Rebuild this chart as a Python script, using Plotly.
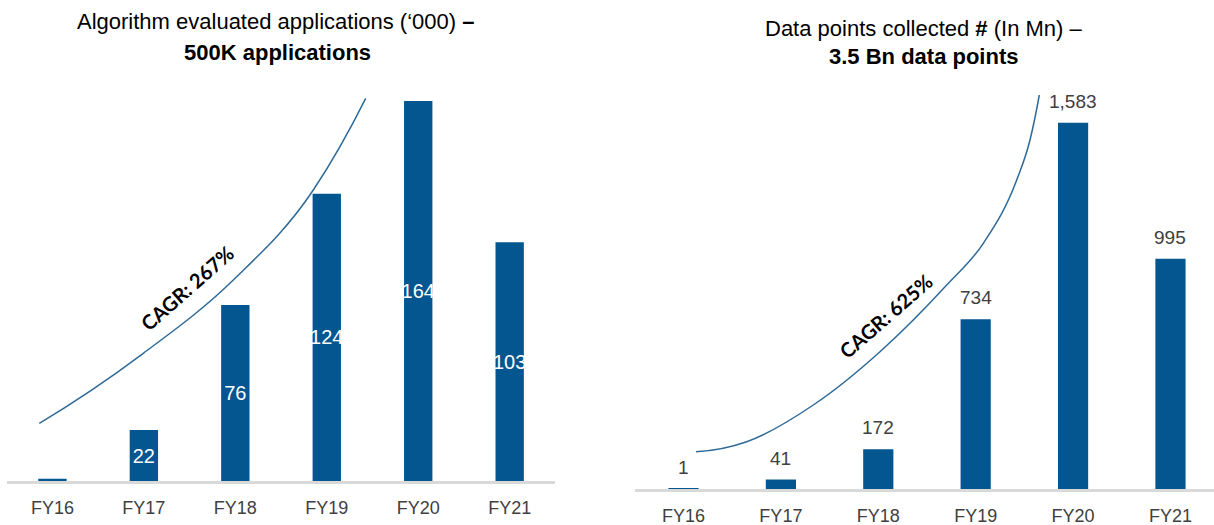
import plotly.graph_objects as go

# ---------------- data ----------------
years = ["FY16", "FY17", "FY18", "FY19", "FY20", "FY21"]
apps_k = [1, 22, 76, 124, 164, 103]            # Algorithm evaluated applications ('000)
data_points_mn = [1, 41, 172, 734, 1583, 995]   # Data points collected (In Mn)

left_title_1 = "Algorithm evaluated applications (‘000) <b>–</b>"
left_title_2 = "<b>500K applications</b>"
right_title_1 = "Data points collected <b>#</b> (In Mn) –"
right_title_2 = "<b>3.5 Bn data points</b>"
left_cagr = "CAGR: 267%"
right_cagr = "CAGR: 625%"

# ---------------- style ----------------
W, H = 1214, 525
BAR = "#03568F"
CURVE = "#2F6A97"
NARROW = "Liberation Sans Narrow, Arial Narrow, Liberation Sans, Arial, sans-serif"
GREY = "#404040"


def px(x):
    return x / W


def py(y):
    return 1 - y / H


def smooth_path(pts):
    """Smooth SVG path (paper coords) through pixel guide points, y as a function of x
    (Hermite cubic with weighted-average tangents -> no wobble)."""
    n = len(pts)
    h = [pts[i + 1][0] - pts[i][0] for i in range(n - 1)]
    d = [(pts[i + 1][1] - pts[i][1]) / h[i] for i in range(n - 1)]
    m = [0.0] * n
    for i in range(1, n - 1):
        m[i] = (d[i - 1] * h[i] + d[i] * h[i - 1]) / (h[i - 1] + h[i])
    m0 = 2 * d[0] - m[1]
    m[0] = m0 if abs(m0) < abs(d[0]) and m0 * d[0] > 0 else 0.4 * d[0]
    m[-1] = 2 * d[-1] - m[-2]
    out = f"M {px(pts[0][0]):.5f},{py(pts[0][1]):.5f}"
    for i in range(n - 1):
        x0, y0 = pts[i]
        x1, y1 = pts[i + 1]
        c1 = (x0 + h[i] / 3, y0 + m[i] * h[i] / 3)
        c2 = (x1 - h[i] / 3, y1 - m[i + 1] * h[i] / 3)
        out += (f" C {px(c1[0]):.5f},{py(c1[1]):.5f} {px(c2[0]):.5f},{py(c2[1]):.5f}"
                f" {px(x1):.5f},{py(y1):.5f}")
    return out


fig = go.Figure()

# left chart bars (labels inside, white)
fig.add_trace(go.Bar(
    x=years, y=apps_k, xaxis="x", yaxis="y",
    marker=dict(color=BAR, line=dict(width=0)),
    text=[str(v) for v in apps_k],
    textposition=["outside"] + ["inside"] * (len(apps_k) - 1),
    insidetextanchor="middle",
    textangle=0,
    constraintext="none",
    textfont=dict(family=NARROW, size=20, color="white"),
    cliponaxis=False,
    hoverinfo="skip",
))

# right chart bars
fig.add_trace(go.Bar(
    x=years, y=data_points_mn, xaxis="x2", yaxis="y2",
    marker=dict(color=BAR, line=dict(width=0)),
    cliponaxis=False,
    hoverinfo="skip",
))

annotations = []
# right chart value labels above bars
for yr, v in zip(years, data_points_mn):
    annotations.append(dict(
        x=yr, y=v, xref="x2", yref="y2", text=f"{v:,}", showarrow=False,
        yanchor="bottom", yshift=9,
        font=dict(family=NARROW, size=19, color=GREY),
    ))

# titles
annotations += [
    dict(x=px(275), y=py(22), xref="paper", yref="paper", text=left_title_1,
         showarrow=False, xanchor="center", yanchor="middle",
         font=dict(family=NARROW, size=22, color="black")),
    dict(x=px(277.5), y=py(52), xref="paper", yref="paper", text=left_title_2,
         showarrow=False, xanchor="center", yanchor="middle",
         font=dict(family=NARROW, size=22, color="black")),
    dict(x=px(923.5), y=py(28), xref="paper", yref="paper", text=right_title_1,
         showarrow=False, xanchor="center", yanchor="middle",
         font=dict(family=NARROW, size=22, color="black")),
    dict(x=px(923.5), y=py(57), xref="paper", yref="paper", text=right_title_2,
         showarrow=False, xanchor="center", yanchor="middle",
         font=dict(family=NARROW, size=22, color="black")),
    dict(x=px(186.7), y=py(287.5), xref="paper", yref="paper", text=f"<b>{left_cagr}</b>",
         showarrow=False, xanchor="center", yanchor="middle", textangle=-41.5,
         font=dict(family="Lato, Carlito, sans-serif", size=20, color="black")),
    dict(x=px(885.5), y=py(315.8), xref="paper", yref="paper", text=f"<b>{right_cagr}</b>",
         showarrow=False, xanchor="center", yanchor="middle", textangle=-41,
         font=dict(family="Lato, Carlito, sans-serif", size=20, color="black")),
]

# guide points (pixels) for the decorative CAGR arcs
left_curve = [(39.3, 423.3), (143.3, 353.3), (233.3, 280.0), (313.3, 190.0), (365.7, 98.3)]
right_curve = [(696.0, 451.7), (746.7, 441.7), (813.3, 405.0), (880.0, 351.7),
               (946.7, 285.0), (983.3, 243.3), (1016.7, 180.0), (1030.0, 140.0),
               (1039.3, 95.0)]

shapes = [
    dict(type="path", xref="paper", yref="paper", path=smooth_path(left_curve),
         line=dict(color=CURVE, width=1.5), fillcolor="rgba(0,0,0,0)", layer="above"),
    dict(type="path", xref="paper", yref="paper", path=smooth_path(right_curve),
         line=dict(color=CURVE, width=1.5), fillcolor="rgba(0,0,0,0)", layer="above"),
]

xcommon = dict(type="category", showgrid=False, zeroline=False, showline=True,
               linecolor="#D9D9D9", linewidth=3, ticks="", ticklabelstandoff=8,
               layer="above traces",
               tickfont=dict(family=NARROW, size=18, color=GREY), fixedrange=True)
ycommon = dict(visible=False, showgrid=False, zeroline=False, fixedrange=True)

fig.update_layout(
    width=W, height=H,
    margin=dict(l=0, r=0, t=0, b=0),
    paper_bgcolor="white", plot_bgcolor="white",
    showlegend=False,
    bargap=0.69,
    xaxis=dict(domain=[px(6.7), px(555.4)], range=[-0.5, 5.5], anchor="y", **xcommon),
    yaxis=dict(domain=[py(481), py(70)], range=[0, 177.4], anchor="x", **ycommon),
    xaxis2=dict(domain=[px(634.8), 1.0], range=[-0.5, 5.447], anchor="y2", **xcommon),
    yaxis2=dict(domain=[py(489), py(70)], range=[0, 1811.5], anchor="x2", **ycommon),
    annotations=annotations,
    shapes=shapes,
)

fig.write_html("out.html")
